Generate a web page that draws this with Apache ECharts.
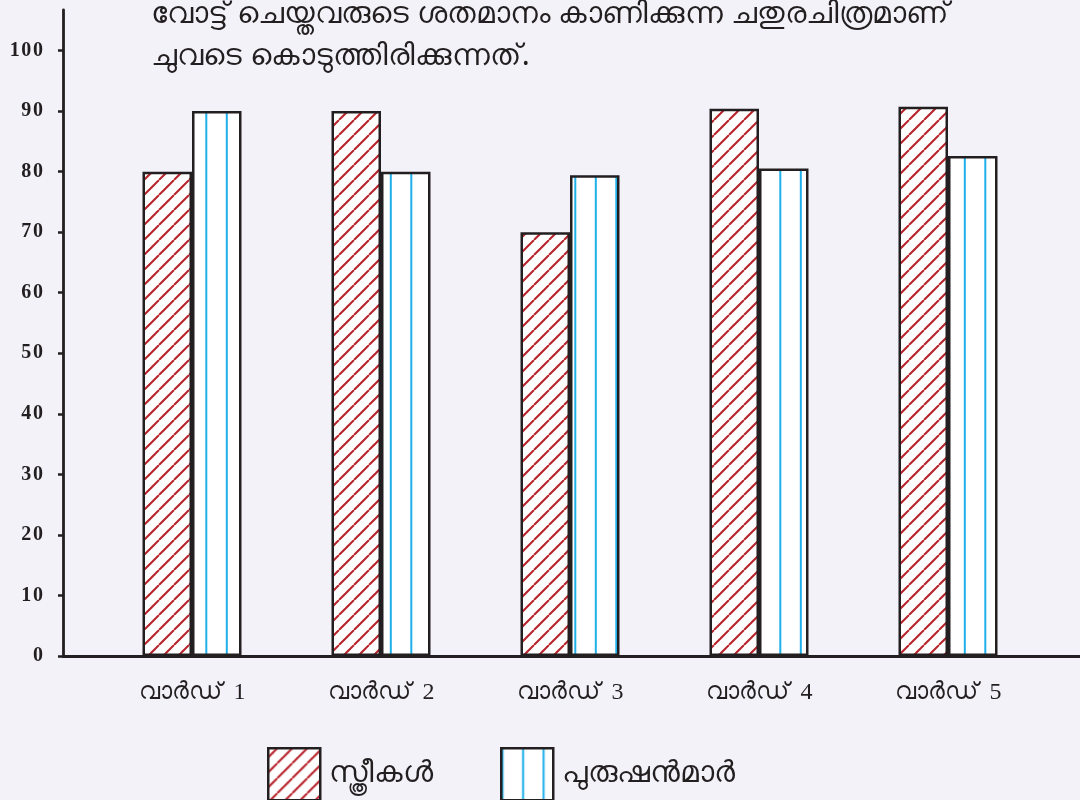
<!DOCTYPE html>
<html>
<head>
<meta charset="utf-8">
<script src="https://cdn.jsdelivr.net/npm/echarts@6/dist/echarts.min.js"></script>
<style>
html,body{margin:0;padding:0;background:#f3f2f9;}
#chart{width:1080px;height:800px;}
</style>
</head>
<body>
<div id="chart"></div>
<script>
// ---- data ----
const titleLines = ['വോട്ട് ചെയ്തവരുടെ ശതമാനം കാണിക്കുന്ന ചതുരചിത്രമാണ്', 'ചുവടെ കൊടുത്തിരിക്കുന്നത്.'];
const categories = ['വാർഡ്  1', 'വാർഡ്  2', 'വാർഡ്  3', 'വാർഡ്  4', 'വാർഡ്  5'];
const seriesNames = ['സ്ത്രീകൾ', 'പുരുഷൻമാർ'];
const women = [80, 90, 70, 90.4, 90.7];
const men = [90, 80, 79.4, 80.5, 82.6];
const yTicks = [0, 10, 20, 30, 40, 50, 60, 70, 80, 90, 100];

// ---- patterns ----
function hatch() {
  const s = 15, c = document.createElement('canvas');
  c.width = s; c.height = s;
  const g = c.getContext('2d');
  g.fillStyle = '#ffffff'; g.fillRect(0, 0, s, s);
  g.strokeStyle = '#b8232b'; g.lineWidth = 2;
  for (let k = -1; k <= 2; k++) {
    const o = 9 + s * k;
    g.beginPath(); g.moveTo(o, 0); g.lineTo(o - s, s); g.stroke();
  }
  return c;
}
function vlines() {
  const c = document.createElement('canvas');
  c.width = 41; c.height = 8;
  const g = c.getContext('2d');
  g.fillStyle = '#ffffff'; g.fillRect(0, 0, 41, 8);
  g.fillStyle = '#1fb0ea';
  g.fillRect(0.3, 0, 2, 8);
  g.fillRect(20.8, 0, 2, 8);
  return c;
}

const ink = '#231f20';
const yMax = 106.7;
const legendBase = {
  top: 747, padding: 0,
  itemWidth: 52, itemHeight: 52,
  icon: 'rect',
  itemStyle: {borderColor: ink, borderWidth: 2.5},
  textStyle: {fontSize: 30, color: ink, padding: [0, 0, 0, 4], fontFamily: 'serif'}
};
const chart = echarts.init(document.getElementById('chart'), null, {renderer: 'canvas'});
chart.setOption({
  backgroundColor: '#f3f2f9',
  animation: false,
  title: {
    text: titleLines.join('\n'),
    left: 146, top: -12,
    textStyle: {fontSize: 30, fontWeight: 'normal', color: ink, lineHeight: 42, fontFamily: 'Noto Sans, sans-serif'}
  },
  legend: [
    Object.assign({data: [seriesNames[0]], left: 267}, legendBase),
    Object.assign({data: [seriesNames[1]], left: 500}, legendBase)
  ],
  grid: [
    {left: 63, right: 0, top: 10, bottom: 144},
    {left: 97.5, right: 37.5, top: 10, bottom: 144}
  ],
  xAxis: [
    {type: 'value', gridIndex: 0, min: 0, max: 1, show: true,
     axisLine: {show: true, lineStyle: {color: ink, width: 2.8}},
     axisTick: {show: false}, axisLabel: {show: false}, splitLine: {show: false}},
    {type: 'category', gridIndex: 1, data: categories,
     axisLine: {show: false}, axisTick: {show: false}, splitLine: {show: false},
     axisLabel: {margin: 25, fontSize: 24, color: ink, fontFamily: 'serif'}}
  ],
  yAxis: [
    {type: 'value', gridIndex: 0, min: 0, max: yMax,
     axisLine: {show: true, lineStyle: {color: ink, width: 2.8}},
     axisTick: {show: true, length: 5, customValues: yTicks, lineStyle: {color: ink, width: 2.5}},
     axisLabel: {margin: 20, fontSize: 20, fontWeight: 'bold', color: ink, fontFamily: 'Liberation Serif, serif',
       customValues: yTicks,
       formatter: v => String(v).split('').join('\u200A')},
     splitLine: {show: false}},
    {type: 'value', gridIndex: 1, min: 0, max: yMax, show: false}
  ],
  series: [
    {name: seriesNames[0], type: 'bar', xAxisIndex: 1, yAxisIndex: 1, data: women,
     barWidth: 49.5, barGap: '0%',
     itemStyle: {color: {image: hatch(), repeat: 'repeat'}, borderColor: ink, borderWidth: 2.5}},
    {name: seriesNames[1], type: 'bar', xAxisIndex: 1, yAxisIndex: 1, data: men,
     barWidth: 49.5, barGap: '0%',
     itemStyle: {color: {image: vlines(), repeat: 'repeat'}, borderColor: ink, borderWidth: 2.5}}
  ]
});
</script>
</body>
</html>
